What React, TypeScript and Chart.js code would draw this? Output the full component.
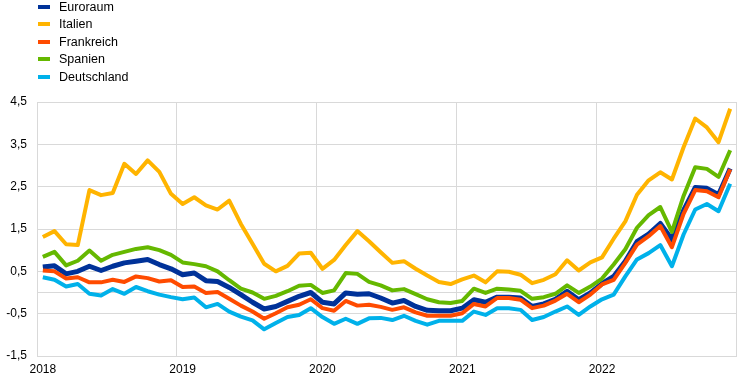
import React, { useEffect, useRef } from "react";
import { Chart, registerables } from "chart.js";

Chart.register(...registerables);

const years = [2018, 2019, 2020, 2021, 2022];
const categories = years.flatMap((y) =>
  ["01", "02", "03", "04", "05", "06", "07", "08", "09", "10", "11", "12"].map((m) => `${y}-${m}`)
);

const euroraum = [
  0.6, 0.63, 0.44, 0.5, 0.62, 0.52, 0.62, 0.7, 0.74, 0.78, 0.66, 0.56,
  0.42, 0.46, 0.28, 0.26, 0.12, -0.05, -0.23, -0.39, -0.33, -0.21, -0.09, 0.0,
  -0.23, -0.27, -0.01, -0.04, -0.03, -0.13, -0.25, -0.19, -0.33, -0.42, -0.43, -0.43,
  -0.37, -0.17, -0.23, -0.11, -0.11, -0.13, -0.33, -0.27, -0.16, 0.03, -0.17, -0.01,
  0.21, 0.38, 0.74, 1.2, 1.38, 1.63, 1.25, 1.94, 2.48, 2.46, 2.31, 2.93,
];
const italien = [
  1.31, 1.45, 1.14, 1.12, 2.42, 2.3, 2.35, 3.04, 2.8, 3.12, 2.85, 2.33,
  2.09, 2.25, 2.06, 1.96, 2.17, 1.62, 1.15, 0.68, 0.5, 0.63, 0.92, 0.94,
  0.56, 0.77, 1.12, 1.45, 1.21, 0.95, 0.7, 0.74, 0.56, 0.4, 0.25, 0.2,
  0.31, 0.4, 0.24, 0.5, 0.49, 0.42, 0.22, 0.3, 0.43, 0.76, 0.52, 0.71,
  0.83, 1.27, 1.68, 2.31, 2.65, 2.84, 2.67, 3.43, 4.11, 3.9, 3.55, 4.34,
];
const frankreich = [
  0.52, 0.5, 0.33, 0.36, 0.24, 0.24, 0.3, 0.25, 0.38, 0.34, 0.26, 0.29,
  0.13, 0.14, -0.01, 0.01, -0.15, -0.31, -0.45, -0.62, -0.49, -0.35, -0.29, -0.16,
  -0.37, -0.43, -0.2, -0.31, -0.29, -0.34, -0.41, -0.35, -0.47, -0.55, -0.55, -0.55,
  -0.49, -0.27, -0.33, -0.13, -0.13, -0.17, -0.37, -0.31, -0.19, -0.03, -0.23, -0.05,
  0.19, 0.3, 0.7, 1.13, 1.33, 1.57, 1.07, 1.86, 2.42, 2.39, 2.25, 2.91,
];
const spanien = [
  0.84, 0.96, 0.64, 0.75, 0.99, 0.75, 0.89, 0.96, 1.03, 1.07, 1.0, 0.89,
  0.71, 0.67, 0.62, 0.5, 0.29, 0.09, 0.0, -0.15, -0.08, 0.03, 0.16, 0.18,
  -0.01, 0.05, 0.46, 0.44, 0.25, 0.17, 0.05, 0.08, -0.04, -0.16, -0.23, -0.25,
  -0.2, 0.09, -0.01, 0.09, 0.07, 0.04, -0.15, -0.11, -0.03, 0.17, -0.01, 0.14,
  0.33, 0.66, 1.02, 1.53, 1.83, 2.02, 1.43, 2.28, 2.96, 2.92, 2.73, 3.36,
];
const deutschland = [
  0.36, 0.3, 0.14, 0.2, -0.03, -0.07, 0.08, -0.03, 0.13, 0.03, -0.05, -0.11,
  -0.16, -0.12, -0.35, -0.27, -0.45, -0.57, -0.66, -0.87, -0.72, -0.58, -0.53, -0.37,
  -0.58, -0.74, -0.62, -0.74, -0.61, -0.6, -0.65, -0.55, -0.67, -0.76, -0.67, -0.67,
  -0.67, -0.45, -0.53, -0.37, -0.37, -0.41, -0.65, -0.58, -0.45, -0.33, -0.53, -0.33,
  -0.16, -0.05, 0.38, 0.78, 0.93, 1.12, 0.62, 1.37, 1.96, 2.09, 1.92, 2.57,
];

const seriesNames = ["Euroraum", "Italien", "Frankreich", "Spanien", "Deutschland"];
const seriesColors = ["#003299", "#ffb400", "#ff4b00", "#65b800", "#00b1ea"];
const seriesData = [euroraum, italien, frankreich, spanien, deutschland];
const seriesWidths = [5, 4, 4, 4, 4];
const seriesOrder = [5, 4, 3, 2, 1];

const yMin = -1.5;
const yMax = 4.5;
const yLabelValues = [-1.5, -0.5, 0.5, 1.5, 2.5, 3.5, 4.5];

const FONT = "'Liberation Sans', Arial, sans-serif";
const GRID = "#d9d9d9";

export default function App() {
  const canvasRef = useRef<HTMLCanvasElement | null>(null);

  useEffect(() => {
    document.body.style.margin = "0";
    const canvas = canvasRef.current;
    if (!canvas) return;
    const chart = new Chart(canvas, {
      type: "line",
      data: {
        labels: categories,
        datasets: seriesNames.map((name, i) => ({
          label: name,
          data: seriesData[i],
          borderColor: seriesColors[i],
          backgroundColor: seriesColors[i],
          borderWidth: seriesWidths[i],
          pointRadius: 0,
          tension: 0,
          fill: false,
          borderJoinStyle: "round" as const,
          order: seriesOrder[i],
        })),
      },
      options: {
        responsive: false,
        animation: false,
        devicePixelRatio: 1,
        layout: { padding: { top: 102, right: 7, left: 0, bottom: 0 } },
        plugins: { legend: { display: false }, tooltip: { enabled: false } },
        scales: {
          x: {
            type: "category",
            offset: true,
            grid: {
              offset: true,
              drawTicks: false,
              lineWidth: 1,
              color: (ctx: any) =>
                ctx.index === undefined || ctx.index % 12 === 0 ? GRID : "rgba(0,0,0,0)",
            },
            border: { display: true, color: GRID, width: 1 },
            ticks: {
              autoSkip: false,
              maxRotation: 0,
              padding: 6,
              color: "#000",
              font: { family: FONT, size: 12 },
              callback: (_v: any, idx: number) =>
                idx % 12 === 0 ? categories[idx].slice(0, 4) : "",
            },
            afterFit: (scale: any) => {
              scale.height = 29;
            },
          },
          y: {
            min: yMin,
            max: yMax,
            grid: {
              drawTicks: false,
              lineWidth: 1,
              color: (ctx: any) => {
                const v = ctx.tick ? ctx.tick.value : NaN;
                return yLabelValues.some((t) => Math.abs(t - v) < 1e-6) || Math.abs(v) < 1e-6
                  ? GRID
                  : "rgba(0,0,0,0)";
              },
            },
            border: { display: true, color: GRID, width: 1 },
            ticks: {
              stepSize: 0.5,
              padding: 10,
              color: "#000",
              font: { family: FONT, size: 12 },
              callback: (v: any) => {
                const n = Number(v);
                return yLabelValues.some((t) => Math.abs(t - n) < 1e-6)
                  ? n.toFixed(1).replace(".", ",")
                  : "";
              },
            },
            afterFit: (scale: any) => {
              scale.width = 37;
            },
          },
        },
      },
    });
    return () => chart.destroy();
  }, []);

  return (
    <div style={{ position: "relative", width: 743, height: 385, background: "#fff" }}>
      <canvas ref={canvasRef} width={743} height={385} style={{ display: "block" }} />
      <div style={{ position: "absolute", left: 38, top: -2, fontFamily: FONT, fontSize: 12.5, color: "#000" }}>
        {seriesNames.map((name, i) => (
          <div key={name} style={{ display: "flex", alignItems: "center", height: 17.5 }}>
            <span
              style={{ display: "inline-block", width: 12, height: 4, background: seriesColors[i], marginRight: 9 }}
            />
            <span>{name}</span>
          </div>
        ))}
      </div>
    </div>
  );
}
